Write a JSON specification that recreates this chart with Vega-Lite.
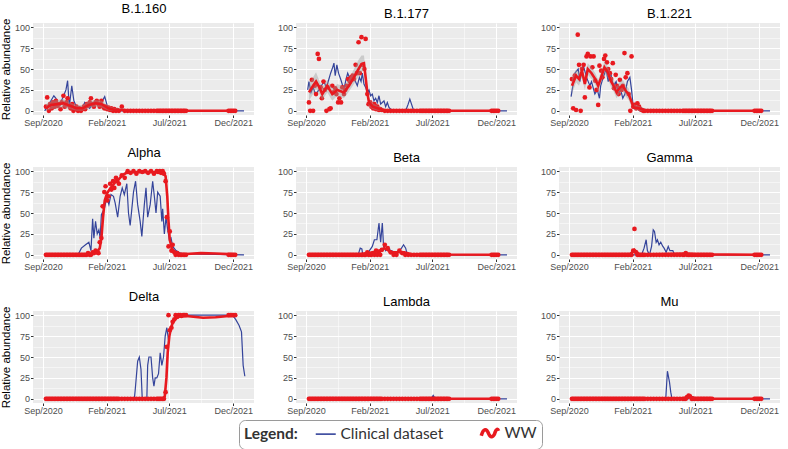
{
  "$schema": "https://vega.github.io/schema/vega-lite/v6.json",
  "padding": {"left": 0, "top": 3, "right": 0, "bottom": 0},
  "datasets": {
    "ww": [
      {"t":"2020-09-08","a":5,"b":10,"c":38,"d":0,"e":0,"f":0,"g":0,"h":0,"i":0},
      {"t":"2020-09-11","a":16,"b":0,"c":3,"d":0,"e":0,"f":0,"g":0,"h":0,"i":0},
      {"t":"2020-09-15","a":0,"b":37,"c":42,"d":0,"e":0,"f":0,"g":0,"h":0,"i":0},
      {"t":"2020-09-18","a":8,"b":0,"c":1,"d":0,"e":0,"f":0,"g":0,"h":0,"i":0},
      {"t":"2020-09-22","a":3,"b":30,"c":91,"d":0,"e":0,"f":0,"g":0,"h":0,"i":0},
      {"t":"2020-09-25","a":10,"b":20,"c":55,"d":0,"e":0,"f":0,"g":0,"h":0,"i":0},
      {"t":"2020-09-29","a":5,"b":68,"c":0,"d":0,"e":0,"f":0,"g":0,"h":0,"i":0},
      {"t":"2020-10-02","a":12,"b":62,"c":50,"d":0,"e":0,"f":0,"g":0,"h":0,"i":0},
      {"t":"2020-10-06","a":6,"b":28,"c":55,"d":0,"e":0,"f":0,"g":0,"h":0,"i":0},
      {"t":"2020-10-09","a":8,"b":15,"c":16,"d":0,"e":0,"f":0,"g":0,"h":0,"i":0},
      {"t":"2020-10-13","a":2,"b":35,"c":65,"d":0,"e":0,"f":0,"g":0,"h":0,"i":0},
      {"t":"2020-10-16","a":10,"b":25,"c":68,"d":0,"e":0,"f":0,"g":0,"h":0,"i":0},
      {"t":"2020-10-20","a":18,"b":0,"c":28,"d":0,"e":0,"f":0,"g":0,"h":0,"i":0},
      {"t":"2020-10-23","a":5,"b":28,"c":65,"d":0,"e":0,"f":0,"g":0,"h":0,"i":0},
      {"t":"2020-10-27","a":10,"b":2,"c":52,"d":0,"e":0,"f":0,"g":0,"h":0,"i":0},
      {"t":"2020-10-30","a":15,"b":3,"c":65,"d":0,"e":0,"f":0,"g":0,"h":0,"i":0},
      {"t":"2020-11-03","a":6,"b":30,"c":36,"d":0,"e":0,"f":0,"g":0,"h":0,"i":0},
      {"t":"2020-11-06","a":3,"b":22,"c":25,"d":0,"e":0,"f":0,"g":0,"h":0,"i":0},
      {"t":"2020-11-10","a":8,"b":27,"c":7,"d":0,"e":0,"f":0,"g":0,"h":0,"i":0},
      {"t":"2020-11-13","a":0,"b":20,"c":54,"d":0,"e":0,"f":0,"g":0,"h":0,"i":0},
      {"t":"2020-11-17","a":2,"b":10,"c":48,"d":0,"e":0,"f":0,"g":0,"h":0,"i":0},
      {"t":"2020-11-20","a":5,"b":15,"c":40,"d":0,"e":0,"f":0,"g":0,"h":0,"i":0},
      {"t":"2020-11-24","a":0,"b":10,"c":62,"d":0,"e":0,"f":0,"g":0,"h":0,"i":0},
      {"t":"2020-11-27","a":3,"b":28,"c":66,"d":0,"e":0,"f":0,"g":0,"h":0,"i":0},
      {"t":"2020-12-01","a":0,"b":20,"c":58,"d":0,"e":0,"f":0,"g":0,"h":0,"i":0},
      {"t":"2020-12-04","a":2,"b":25,"c":50,"d":0,"e":0,"f":0,"g":0,"h":0,"i":0},
      {"t":"2020-12-08","a":5,"b":30,"c":45,"d":0,"e":0,"f":0,"g":0,"h":0,"i":0},
      {"t":"2020-12-11","a":2,"b":38,"c":38,"d":0,"e":0,"f":0,"g":0,"h":0,"i":0},
      {"t":"2020-12-15","a":8,"b":35,"c":57,"d":0,"e":0,"f":0,"g":0,"h":0,"i":0},
      {"t":"2020-12-18","a":6,"b":40,"c":27,"d":2,"e":0,"f":0,"g":0,"h":0,"i":0},
      {"t":"2020-12-22","a":10,"b":42,"c":43,"d":0,"e":0,"f":0,"g":0,"h":0,"i":0},
      {"t":"2020-12-25","a":15,"b":38,"c":30,"d":0,"e":0,"f":0,"g":0,"h":0,"i":0},
      {"t":"2020-12-29","a":8,"b":55,"c":20,"d":3,"e":0,"f":0,"g":0,"h":0,"i":0},
      {"t":"2021-01-01","a":5,"b":45,"c":37,"d":2,"e":0,"f":0,"g":0,"h":0,"i":0},
      {"t":"2021-01-05","a":10,"b":82,"c":25,"d":5,"e":0,"f":0,"g":0,"h":0,"i":0},
      {"t":"2021-01-08","a":12,"b":45,"c":30,"d":3,"e":0,"f":0,"g":0,"h":0,"i":0},
      {"t":"2021-01-12","a":8,"b":88,"c":69,"d":2,"e":0,"f":0,"g":0,"h":0,"i":0},
      {"t":"2021-01-15","a":5,"b":55,"c":40,"d":15,"e":0,"f":0,"g":0,"h":0,"i":0},
      {"t":"2021-01-19","a":12,"b":50,"c":45,"d":20,"e":0,"f":0,"g":0,"h":0,"i":0},
      {"t":"2021-01-22","a":6,"b":86,"c":20,"d":58,"e":0,"f":0,"g":0,"h":0,"i":0},
      {"t":"2021-01-26","a":3,"b":20,"c":0,"d":75,"e":3,"f":0,"g":0,"h":0,"i":0},
      {"t":"2021-01-29","a":5,"b":8,"c":65,"d":82,"e":0,"f":0,"g":0,"h":0,"i":0},
      {"t":"2021-02-02","a":2,"b":10,"c":5,"d":65,"e":0,"f":5,"g":0,"h":0,"i":0},
      {"t":"2021-02-05","a":4,"b":5,"c":7,"d":70,"e":0,"f":31,"g":0,"h":0,"i":0},
      {"t":"2021-02-09","a":1,"b":3,"c":3,"d":85,"e":2,"f":3,"g":0,"h":0,"i":0},
      {"t":"2021-02-12","a":3,"b":8,"c":9,"d":78,"e":0,"f":0,"g":0,"h":0,"i":0},
      {"t":"2021-02-16","a":0,"b":2,"c":5,"d":88,"e":5,"f":0,"g":0,"h":0,"i":0},
      {"t":"2021-02-19","a":2,"b":5,"c":2,"d":80,"e":0,"f":0,"g":0,"h":0,"i":0},
      {"t":"2021-02-23","a":0,"b":1,"c":1,"d":92,"e":4,"f":0,"g":0,"h":0,"i":0},
      {"t":"2021-02-26","a":1,"b":2,"c":0,"d":88,"e":0,"f":0,"g":0,"h":0,"i":0},
      {"t":"2021-03-02","a":0,"b":1,"c":0,"d":85,"e":6,"f":0,"g":0,"h":0,"i":0},
      {"t":"2021-03-09","a":5,"b":0,"c":0,"d":95,"e":12,"f":0,"g":0,"h":0,"i":0},
      {"t":"2021-03-16","a":0,"b":0,"c":0,"d":92,"e":8,"f":0,"g":0,"h":0,"i":0},
      {"t":"2021-03-23","a":0,"b":0,"c":0,"d":100,"e":3,"f":0,"g":0,"h":0,"i":0},
      {"t":"2021-03-30","a":0,"b":0,"c":0,"d":98,"e":0,"f":0,"g":0,"h":0,"i":0},
      {"t":"2021-04-06","a":0,"b":0,"c":0,"d":100,"e":0,"f":0,"g":0,"h":0,"i":0},
      {"t":"2021-04-13","a":0,"b":0,"c":0,"d":97,"e":5,"f":0,"g":0,"h":0,"i":0},
      {"t":"2021-04-20","a":0,"b":0,"c":0,"d":100,"e":2,"f":0,"g":0,"h":0,"i":0},
      {"t":"2021-04-27","a":0,"b":0,"c":0,"d":99,"e":0,"f":0,"g":0,"h":0,"i":0},
      {"t":"2021-05-04","a":0,"b":0,"c":0,"d":100,"e":0,"f":0,"g":0,"h":0,"i":0},
      {"t":"2021-05-11","a":0,"b":0,"c":0,"d":98,"e":0,"f":0,"g":0,"h":0,"i":0},
      {"t":"2021-05-18","a":0,"b":0,"c":0,"d":100,"e":0,"f":0,"g":0,"h":0,"i":0},
      {"t":"2021-05-25","a":0,"b":0,"c":0,"d":97,"e":0,"f":0,"g":0,"h":0,"i":0},
      {"t":"2021-06-01","a":0,"b":0,"c":0,"d":100,"e":0,"f":0,"g":0,"h":0,"i":0},
      {"t":"2021-06-04","a":0,"b":0,"c":0,"d":99,"e":0,"f":0,"g":0,"h":0,"i":0},
      {"t":"2021-06-08","a":0,"b":0,"c":0,"d":100,"e":0,"f":2,"g":0,"h":0,"i":0},
      {"t":"2021-06-11","a":0,"b":0,"c":0,"d":98,"e":0,"f":0,"g":0,"h":0,"i":2},
      {"t":"2021-06-15","a":0,"b":0,"c":0,"d":100,"e":0,"f":0,"g":0,"h":0,"i":4},
      {"t":"2021-06-18","a":0,"b":0,"c":0,"d":97,"e":0,"f":0,"g":0,"h":0,"i":3},
      {"t":"2021-06-22","a":0,"b":0,"c":0,"d":88,"e":0,"f":0,"g":8,"h":0,"i":0},
      {"t":"2021-06-25","a":0,"b":0,"c":0,"d":45,"e":0,"f":0,"g":62,"h":0,"i":0},
      {"t":"2021-06-29","a":0,"b":0,"c":0,"d":10,"e":0,"f":0,"g":100,"h":0,"i":0},
      {"t":"2021-07-02","a":0,"b":0,"c":0,"d":28,"e":0,"f":0,"g":82,"h":0,"i":0},
      {"t":"2021-07-06","a":0,"b":0,"c":0,"d":5,"e":0,"f":0,"g":85,"h":0,"i":0},
      {"t":"2021-07-09","a":0,"b":0,"c":0,"d":12,"e":0,"f":0,"g":92,"h":0,"i":0},
      {"t":"2021-07-13","a":0,"b":0,"c":0,"d":3,"e":0,"f":0,"g":95,"h":0,"i":0},
      {"t":"2021-07-16","a":0,"b":0,"c":0,"d":0,"e":0,"f":0,"g":100,"h":0,"i":0},
      {"t":"2021-07-20","a":0,"b":0,"c":0,"d":2,"e":0,"f":0,"g":98,"h":0,"i":0},
      {"t":"2021-07-23","a":0,"b":0,"c":0,"d":0,"e":0,"f":0,"g":100,"h":0,"i":0},
      {"t":"2021-07-27","a":0,"b":0,"c":0,"d":0,"e":0,"f":0,"g":100,"h":0,"i":0},
      {"t":"2021-07-30","a":0,"b":0,"c":0,"d":0,"e":0,"f":0,"g":99,"h":0,"i":0},
      {"t":"2021-08-03","a":0,"b":0,"c":0,"d":0,"e":0,"f":0,"g":100,"h":0,"i":0},
      {"t":"2021-08-06","a":0,"b":0,"c":0,"d":0,"e":0,"f":0,"g":100,"h":0,"i":0},
      {"t":"2021-08-10","a":0,"b":0,"c":0,"d":0,"e":0,"f":0,"g":100,"h":0,"i":0},
      {"t":"2021-11-20","a":0,"b":0,"c":0,"d":0,"e":0,"f":0,"g":100,"h":0,"i":0},
      {"t":"2021-11-24","a":0,"b":0,"c":0,"d":0,"e":0,"f":0,"g":100,"h":0,"i":0},
      {"t":"2021-11-28","a":0,"b":0,"c":0,"d":0,"e":0,"f":0,"g":100,"h":0,"i":0},
      {"t":"2021-12-02","a":0,"b":0,"c":0,"d":0,"e":0,"f":0,"g":100,"h":0,"i":0},
      {"t":"2021-12-06","a":0,"b":0,"c":0,"d":0,"e":0,"f":0,"g":100,"h":0,"i":0}
    ],
    "fit": [
      {"v":"a","t":"2020-09-08","y":3,"lo":0,"hi":8},
      {"v":"a","t":"2020-09-20","y":7,"lo":2,"hi":12},
      {"v":"a","t":"2020-10-05","y":8,"lo":3,"hi":13},
      {"v":"a","t":"2020-10-20","y":9,"lo":4,"hi":14},
      {"v":"a","t":"2020-11-05","y":6,"lo":2,"hi":10},
      {"v":"a","t":"2020-11-20","y":3,"lo":0,"hi":7},
      {"v":"a","t":"2020-12-05","y":3,"lo":0,"hi":7},
      {"v":"a","t":"2020-12-20","y":7,"lo":3,"hi":12},
      {"v":"a","t":"2021-01-05","y":9,"lo":5,"hi":13},
      {"v":"a","t":"2021-01-20","y":8,"lo":4,"hi":12},
      {"v":"a","t":"2021-02-05","y":3,"lo":0,"hi":6},
      {"v":"a","t":"2021-02-20","y":1,"lo":0,"hi":3},
      {"v":"a","t":"2021-03-10","y":1,"lo":0,"hi":3},
      {"v":"a","t":"2021-04-01","y":0,"lo":0,"hi":1},
      {"v":"a","t":"2021-12-06","y":0,"lo":0,"hi":1},
      {"v":"b","t":"2020-09-08","y":22,"lo":12,"hi":32},
      {"v":"b","t":"2020-09-18","y":30,"lo":20,"hi":40},
      {"v":"b","t":"2020-09-25","y":35,"lo":26,"hi":46},
      {"v":"b","t":"2020-10-03","y":28,"lo":20,"hi":36},
      {"v":"b","t":"2020-10-10","y":20,"lo":13,"hi":28},
      {"v":"b","t":"2020-10-22","y":30,"lo":22,"hi":37},
      {"v":"b","t":"2020-11-03","y":20,"lo":12,"hi":27},
      {"v":"b","t":"2020-11-15","y":25,"lo":18,"hi":32},
      {"v":"b","t":"2020-12-01","y":22,"lo":15,"hi":29},
      {"v":"b","t":"2020-12-13","y":30,"lo":23,"hi":38},
      {"v":"b","t":"2020-12-25","y":40,"lo":32,"hi":50},
      {"v":"b","t":"2021-01-05","y":50,"lo":41,"hi":61},
      {"v":"b","t":"2021-01-12","y":56,"lo":47,"hi":66},
      {"v":"b","t":"2021-01-18","y":57,"lo":48,"hi":66},
      {"v":"b","t":"2021-01-22","y":40,"lo":32,"hi":48},
      {"v":"b","t":"2021-01-26","y":22,"lo":15,"hi":30},
      {"v":"b","t":"2021-01-30","y":10,"lo":5,"hi":16},
      {"v":"b","t":"2021-02-08","y":5,"lo":2,"hi":9},
      {"v":"b","t":"2021-02-20","y":3,"lo":0,"hi":6},
      {"v":"b","t":"2021-03-05","y":1,"lo":0,"hi":3},
      {"v":"b","t":"2021-03-25","y":0,"lo":0,"hi":1},
      {"v":"b","t":"2021-12-06","y":0,"lo":0,"hi":1},
      {"v":"c","t":"2020-09-08","y":30,"lo":20,"hi":40},
      {"v":"c","t":"2020-09-18","y":42,"lo":34,"hi":50},
      {"v":"c","t":"2020-09-25","y":38,"lo":30,"hi":46},
      {"v":"c","t":"2020-10-02","y":48,"lo":40,"hi":55},
      {"v":"c","t":"2020-10-09","y":32,"lo":25,"hi":40},
      {"v":"c","t":"2020-10-16","y":50,"lo":43,"hi":57},
      {"v":"c","t":"2020-10-25","y":45,"lo":38,"hi":52},
      {"v":"c","t":"2020-11-03","y":38,"lo":31,"hi":45},
      {"v":"c","t":"2020-11-10","y":30,"lo":23,"hi":37},
      {"v":"c","t":"2020-11-17","y":40,"lo":33,"hi":47},
      {"v":"c","t":"2020-11-25","y":52,"lo":45,"hi":59},
      {"v":"c","t":"2020-12-03","y":46,"lo":39,"hi":53},
      {"v":"c","t":"2020-12-10","y":36,"lo":29,"hi":43},
      {"v":"c","t":"2020-12-17","y":30,"lo":23,"hi":37},
      {"v":"c","t":"2020-12-24","y":22,"lo":15,"hi":29},
      {"v":"c","t":"2021-01-01","y":28,"lo":21,"hi":35},
      {"v":"c","t":"2021-01-08","y":30,"lo":23,"hi":37},
      {"v":"c","t":"2021-01-15","y":24,"lo":17,"hi":31},
      {"v":"c","t":"2021-01-22","y":20,"lo":13,"hi":27},
      {"v":"c","t":"2021-01-28","y":12,"lo":6,"hi":18},
      {"v":"c","t":"2021-02-03","y":4,"lo":1,"hi":8},
      {"v":"c","t":"2021-02-15","y":3,"lo":0,"hi":6},
      {"v":"c","t":"2021-03-01","y":1,"lo":0,"hi":3},
      {"v":"c","t":"2021-03-20","y":0,"lo":0,"hi":1},
      {"v":"c","t":"2021-12-06","y":0,"lo":0,"hi":1},
      {"v":"d","t":"2020-09-08","y":0},
      {"v":"d","t":"2020-12-10","y":0},
      {"v":"d","t":"2020-12-25","y":1},
      {"v":"d","t":"2021-01-08","y":3},
      {"v":"d","t":"2021-01-15","y":8},
      {"v":"d","t":"2021-01-19","y":20},
      {"v":"d","t":"2021-01-23","y":45},
      {"v":"d","t":"2021-01-27","y":65},
      {"v":"d","t":"2021-02-02","y":74},
      {"v":"d","t":"2021-02-10","y":80},
      {"v":"d","t":"2021-02-20","y":86},
      {"v":"d","t":"2021-03-01","y":90},
      {"v":"d","t":"2021-03-10","y":95},
      {"v":"d","t":"2021-03-20","y":98},
      {"v":"d","t":"2021-04-05","y":99},
      {"v":"d","t":"2021-06-15","y":99},
      {"v":"d","t":"2021-06-22","y":94},
      {"v":"d","t":"2021-06-26","y":70},
      {"v":"d","t":"2021-06-29","y":40},
      {"v":"d","t":"2021-07-02","y":18},
      {"v":"d","t":"2021-07-07","y":8},
      {"v":"d","t":"2021-07-14","y":3},
      {"v":"d","t":"2021-07-25","y":1},
      {"v":"d","t":"2021-08-10","y":1},
      {"v":"d","t":"2021-09-15","y":2},
      {"v":"d","t":"2021-10-20","y":1.5},
      {"v":"d","t":"2021-12-06","y":0.5},
      {"v":"e","t":"2020-09-08","y":0},
      {"v":"e","t":"2021-01-05","y":0},
      {"v":"e","t":"2021-01-25","y":2},
      {"v":"e","t":"2021-02-10","y":3},
      {"v":"e","t":"2021-02-25","y":5},
      {"v":"e","t":"2021-03-08","y":8},
      {"v":"e","t":"2021-03-15","y":6},
      {"v":"e","t":"2021-03-25","y":3},
      {"v":"e","t":"2021-04-10","y":3},
      {"v":"e","t":"2021-04-25","y":3},
      {"v":"e","t":"2021-05-10","y":1},
      {"v":"e","t":"2021-06-01","y":0.3},
      {"v":"e","t":"2021-12-06","y":0},
      {"v":"f","t":"2020-09-08","y":0},
      {"v":"f","t":"2021-01-25","y":0.5},
      {"v":"f","t":"2021-02-05","y":6},
      {"v":"f","t":"2021-02-15","y":1},
      {"v":"f","t":"2021-03-15","y":0.5},
      {"v":"f","t":"2021-06-08","y":1.5},
      {"v":"f","t":"2021-07-01","y":0.5},
      {"v":"f","t":"2021-12-06","y":0},
      {"v":"g","t":"2020-09-08","y":0},
      {"v":"g","t":"2021-06-15","y":0},
      {"v":"g","t":"2021-06-20","y":3},
      {"v":"g","t":"2021-06-24","y":25},
      {"v":"g","t":"2021-06-27","y":55},
      {"v":"g","t":"2021-07-01","y":75},
      {"v":"g","t":"2021-07-05","y":85},
      {"v":"g","t":"2021-07-10","y":92},
      {"v":"g","t":"2021-07-18","y":97},
      {"v":"g","t":"2021-07-28","y":99},
      {"v":"g","t":"2021-08-10","y":99},
      {"v":"g","t":"2021-09-20","y":97},
      {"v":"g","t":"2021-10-20","y":97.5},
      {"v":"g","t":"2021-11-20","y":99},
      {"v":"g","t":"2021-12-06","y":100},
      {"v":"h","t":"2020-09-08","y":0},
      {"v":"h","t":"2021-12-06","y":0},
      {"v":"i","t":"2020-09-08","y":0},
      {"v":"i","t":"2021-06-01","y":0},
      {"v":"i","t":"2021-06-14","y":3},
      {"v":"i","t":"2021-06-28","y":1},
      {"v":"i","t":"2021-07-15","y":0},
      {"v":"i","t":"2021-12-06","y":0}
    ],
    "clin": [
      {"v":"a","t":"2020-09-05","y":0},{"v":"a","t":"2020-09-12","y":5},{"v":"a","t":"2020-09-20","y":12},{"v":"a","t":"2020-09-27","y":18},
      {"v":"a","t":"2020-10-02","y":15},{"v":"a","t":"2020-10-07","y":8},{"v":"a","t":"2020-10-13","y":10},{"v":"a","t":"2020-10-18","y":15},
      {"v":"a","t":"2020-10-26","y":25},{"v":"a","t":"2020-10-30","y":36},{"v":"a","t":"2020-11-03","y":5},{"v":"a","t":"2020-11-09","y":30},
      {"v":"a","t":"2020-11-14","y":12},{"v":"a","t":"2020-11-20","y":5},{"v":"a","t":"2020-11-28","y":0},{"v":"a","t":"2020-12-03","y":2},
      {"v":"a","t":"2020-12-10","y":10},{"v":"a","t":"2020-12-15","y":6},{"v":"a","t":"2020-12-22","y":3},{"v":"a","t":"2020-12-28","y":8},
      {"v":"a","t":"2021-01-05","y":12},{"v":"a","t":"2021-01-12","y":8},{"v":"a","t":"2021-01-19","y":10},{"v":"a","t":"2021-01-27","y":17},
      {"v":"a","t":"2021-02-01","y":8},{"v":"a","t":"2021-02-06","y":0},{"v":"a","t":"2021-12-27","y":0},
      {"v":"b","t":"2020-09-05","y":25},{"v":"b","t":"2020-09-08","y":35},{"v":"b","t":"2020-09-13","y":22},{"v":"b","t":"2020-09-18","y":28},
      {"v":"b","t":"2020-09-24","y":20},{"v":"b","t":"2020-10-02","y":25},{"v":"b","t":"2020-10-08","y":30},{"v":"b","t":"2020-10-14","y":35},
      {"v":"b","t":"2020-10-20","y":28},{"v":"b","t":"2020-10-26","y":38},{"v":"b","t":"2020-10-30","y":45},{"v":"b","t":"2020-11-04","y":52},
      {"v":"b","t":"2020-11-07","y":57},{"v":"b","t":"2020-11-10","y":42},{"v":"b","t":"2020-11-14","y":55},{"v":"b","t":"2020-11-18","y":45},
      {"v":"b","t":"2020-11-23","y":38},{"v":"b","t":"2020-11-28","y":30},{"v":"b","t":"2020-12-02","y":28},{"v":"b","t":"2020-12-06","y":38},
      {"v":"b","t":"2020-12-10","y":45},{"v":"b","t":"2020-12-14","y":40},{"v":"b","t":"2020-12-18","y":35},{"v":"b","t":"2020-12-22","y":42},
      {"v":"b","t":"2020-12-26","y":38},{"v":"b","t":"2021-01-02","y":30},{"v":"b","t":"2021-01-07","y":40},{"v":"b","t":"2021-01-11","y":35},
      {"v":"b","t":"2021-01-14","y":45},{"v":"b","t":"2021-01-18","y":32},{"v":"b","t":"2021-01-22","y":28},{"v":"b","t":"2021-01-26","y":22},
      {"v":"b","t":"2021-01-30","y":25},{"v":"b","t":"2021-02-03","y":18},{"v":"b","t":"2021-02-07","y":20},{"v":"b","t":"2021-02-11","y":12},
      {"v":"b","t":"2021-02-15","y":15},{"v":"b","t":"2021-02-19","y":10},{"v":"b","t":"2021-02-23","y":18},{"v":"b","t":"2021-02-27","y":8},
      {"v":"b","t":"2021-03-03","y":10},{"v":"b","t":"2021-03-07","y":12},{"v":"b","t":"2021-03-11","y":5},{"v":"b","t":"2021-03-15","y":10},
      {"v":"b","t":"2021-03-19","y":4},{"v":"b","t":"2021-03-23","y":2},{"v":"b","t":"2021-03-28","y":1},{"v":"b","t":"2021-04-05","y":0},
      {"v":"b","t":"2021-04-28","y":0},{"v":"b","t":"2021-05-04","y":8},{"v":"b","t":"2021-05-08","y":14},{"v":"b","t":"2021-05-12","y":8},
      {"v":"b","t":"2021-05-16","y":2},{"v":"b","t":"2021-05-20","y":0},{"v":"b","t":"2021-12-27","y":0},
      {"v":"c","t":"2020-09-06","y":17},{"v":"c","t":"2020-09-15","y":45},{"v":"c","t":"2020-09-23","y":50},{"v":"c","t":"2020-09-27","y":35},
      {"v":"c","t":"2020-10-05","y":55},{"v":"c","t":"2020-10-13","y":40},{"v":"c","t":"2020-10-21","y":30},{"v":"c","t":"2020-10-25","y":35},
      {"v":"c","t":"2020-11-02","y":20},{"v":"c","t":"2020-11-08","y":25},{"v":"c","t":"2020-11-13","y":15},{"v":"c","t":"2020-11-16","y":30},
      {"v":"c","t":"2020-11-22","y":40},{"v":"c","t":"2020-11-29","y":50},{"v":"c","t":"2020-12-04","y":35},{"v":"c","t":"2020-12-10","y":45},
      {"v":"c","t":"2020-12-16","y":30},{"v":"c","t":"2020-12-23","y":35},{"v":"c","t":"2020-12-28","y":20},{"v":"c","t":"2021-01-03","y":25},
      {"v":"c","t":"2021-01-08","y":15},{"v":"c","t":"2021-01-13","y":20},{"v":"c","t":"2021-01-19","y":35},{"v":"c","t":"2021-01-25","y":40},
      {"v":"c","t":"2021-01-29","y":25},{"v":"c","t":"2021-02-02","y":5},{"v":"c","t":"2021-02-10","y":3},{"v":"c","t":"2021-02-18","y":0},
      {"v":"c","t":"2021-12-27","y":0},
      {"v":"d","t":"2020-09-05","y":0},{"v":"d","t":"2020-11-24","y":0},{"v":"d","t":"2020-12-02","y":8},{"v":"d","t":"2020-12-12","y":12},
      {"v":"d","t":"2020-12-20","y":15},{"v":"d","t":"2020-12-25","y":5},{"v":"d","t":"2020-12-29","y":43},{"v":"d","t":"2021-01-01","y":20},
      {"v":"d","t":"2021-01-05","y":40},{"v":"d","t":"2021-01-09","y":25},{"v":"d","t":"2021-01-13","y":30},{"v":"d","t":"2021-01-16","y":20},
      {"v":"d","t":"2021-01-19","y":48},{"v":"d","t":"2021-01-26","y":55},{"v":"d","t":"2021-02-01","y":68},{"v":"d","t":"2021-02-06","y":60},
      {"v":"d","t":"2021-02-11","y":72},{"v":"d","t":"2021-02-17","y":70},{"v":"d","t":"2021-02-21","y":62},{"v":"d","t":"2021-02-27","y":45},
      {"v":"d","t":"2021-03-05","y":70},{"v":"d","t":"2021-03-10","y":80},{"v":"d","t":"2021-03-15","y":72},{"v":"d","t":"2021-03-21","y":85},
      {"v":"d","t":"2021-03-25","y":50},{"v":"d","t":"2021-03-29","y":35},{"v":"d","t":"2021-04-02","y":55},{"v":"d","t":"2021-04-06","y":75},
      {"v":"d","t":"2021-04-11","y":88},{"v":"d","t":"2021-04-16","y":60},{"v":"d","t":"2021-04-22","y":40},{"v":"d","t":"2021-04-26","y":22},
      {"v":"d","t":"2021-05-02","y":60},{"v":"d","t":"2021-05-06","y":80},{"v":"d","t":"2021-05-10","y":45},{"v":"d","t":"2021-05-16","y":60},
      {"v":"d","t":"2021-05-22","y":88},{"v":"d","t":"2021-05-26","y":70},{"v":"d","t":"2021-05-30","y":50},{"v":"d","t":"2021-06-03","y":75},
      {"v":"d","t":"2021-06-09","y":70},{"v":"d","t":"2021-06-13","y":40},{"v":"d","t":"2021-06-15","y":55},{"v":"d","t":"2021-06-19","y":25},
      {"v":"d","t":"2021-06-23","y":45},{"v":"d","t":"2021-06-27","y":30},{"v":"d","t":"2021-07-01","y":18},{"v":"d","t":"2021-07-05","y":20},
      {"v":"d","t":"2021-07-09","y":10},{"v":"d","t":"2021-07-17","y":5},{"v":"d","t":"2021-07-27","y":2},{"v":"d","t":"2021-08-08","y":1},
      {"v":"d","t":"2021-12-27","y":0},
      {"v":"e","t":"2020-09-05","y":0},{"v":"e","t":"2021-01-04","y":0},{"v":"e","t":"2021-01-09","y":8},{"v":"e","t":"2021-01-13","y":7},
      {"v":"e","t":"2021-01-15","y":0},{"v":"e","t":"2021-01-27","y":2},{"v":"e","t":"2021-02-07","y":10},{"v":"e","t":"2021-02-12","y":18},
      {"v":"e","t":"2021-02-18","y":18},{"v":"e","t":"2021-02-23","y":38},{"v":"e","t":"2021-02-27","y":15},{"v":"e","t":"2021-03-03","y":38},
      {"v":"e","t":"2021-03-06","y":10},{"v":"e","t":"2021-03-11","y":5},{"v":"e","t":"2021-03-16","y":8},{"v":"e","t":"2021-03-24","y":5},
      {"v":"e","t":"2021-04-02","y":3},{"v":"e","t":"2021-04-10","y":3},{"v":"e","t":"2021-04-18","y":8},{"v":"e","t":"2021-04-23","y":12},
      {"v":"e","t":"2021-04-28","y":8},{"v":"e","t":"2021-05-01","y":2},{"v":"e","t":"2021-05-06","y":0},{"v":"e","t":"2021-12-27","y":0},
      {"v":"f","t":"2020-09-05","y":0},{"v":"f","t":"2021-02-22","y":0},{"v":"f","t":"2021-02-28","y":8},{"v":"f","t":"2021-03-05","y":18},
      {"v":"f","t":"2021-03-08","y":5},{"v":"f","t":"2021-03-13","y":0},{"v":"f","t":"2021-03-18","y":10},{"v":"f","t":"2021-03-22","y":30},
      {"v":"f","t":"2021-03-25","y":28},{"v":"f","t":"2021-03-29","y":15},{"v":"f","t":"2021-04-01","y":18},{"v":"f","t":"2021-04-05","y":12},
      {"v":"f","t":"2021-04-09","y":15},{"v":"f","t":"2021-04-14","y":10},{"v":"f","t":"2021-04-17","y":8},{"v":"f","t":"2021-04-22","y":3},
      {"v":"f","t":"2021-04-27","y":10},{"v":"f","t":"2021-05-01","y":5},{"v":"f","t":"2021-05-08","y":5},{"v":"f","t":"2021-05-11","y":1},
      {"v":"f","t":"2021-05-17","y":0},{"v":"f","t":"2021-12-27","y":0},
      {"v":"g","t":"2020-09-05","y":0},{"v":"g","t":"2021-04-08","y":0},{"v":"g","t":"2021-04-10","y":10},{"v":"g","t":"2021-04-16","y":45},
      {"v":"g","t":"2021-04-20","y":50},{"v":"g","t":"2021-04-24","y":35},{"v":"g","t":"2021-04-27","y":0},{"v":"g","t":"2021-05-08","y":0},
      {"v":"g","t":"2021-05-10","y":40},{"v":"g","t":"2021-05-13","y":50},{"v":"g","t":"2021-05-18","y":50},{"v":"g","t":"2021-05-22","y":25},
      {"v":"g","t":"2021-05-25","y":15},{"v":"g","t":"2021-05-28","y":25},{"v":"g","t":"2021-06-01","y":25},{"v":"g","t":"2021-06-05","y":30},
      {"v":"g","t":"2021-06-09","y":55},{"v":"g","t":"2021-06-13","y":40},{"v":"g","t":"2021-06-17","y":50},{"v":"g","t":"2021-06-21","y":75},
      {"v":"g","t":"2021-06-25","y":85},{"v":"g","t":"2021-06-29","y":70},{"v":"g","t":"2021-07-03","y":80},{"v":"g","t":"2021-07-07","y":90},
      {"v":"g","t":"2021-07-15","y":97},{"v":"g","t":"2021-07-23","y":100},{"v":"g","t":"2021-11-29","y":100},{"v":"g","t":"2021-12-07","y":95},
      {"v":"g","t":"2021-12-15","y":88},{"v":"g","t":"2021-12-21","y":80},{"v":"g","t":"2021-12-25","y":40},{"v":"g","t":"2021-12-29","y":27},
      {"v":"h","t":"2020-09-05","y":0},{"v":"h","t":"2021-06-28","y":0},{"v":"h","t":"2021-07-03","y":4},{"v":"h","t":"2021-07-08","y":0},
      {"v":"h","t":"2021-12-27","y":0},
      {"v":"i","t":"2020-09-05","y":0},{"v":"i","t":"2021-04-21","y":0},{"v":"i","t":"2021-04-25","y":33},{"v":"i","t":"2021-04-30","y":20},
      {"v":"i","t":"2021-05-03","y":8},{"v":"i","t":"2021-05-06","y":0},{"v":"i","t":"2021-06-14","y":0},{"v":"i","t":"2021-06-20","y":3},
      {"v":"i","t":"2021-06-26","y":2},{"v":"i","t":"2021-07-03","y":0},{"v":"i","t":"2021-12-27","y":0}
    ]
  },
  "columns": 3,
  "align": "each",
  "spacing": {"row": 19, "column": 23},
  "concat": [
    {"title": {"text": "B.1.160", "anchor": "middle", "frame": "group", "fontWeight": "normal", "dx": 0.5}, "width": 221, "height": 92,
     "resolve": {"axis": {"x": "independent", "y": "independent"}},
     "layer": [
      {"data": {"name": "clin"}, "transform": [{"filter": "datum.v === 'a'"}], "mark": {"type": "line", "strokeWidth": 1.2},
       "encoding": {
        "x": {"field": "t", "type": "temporal", "scale": {"type": "utc", "domain": [{"year": 2020, "month": 8, "date": 8, "utc": true}, {"year": 2022, "month": 1, "date": 20, "utc": true}]}, "axis": {"values": [{"year": 2020, "month": 9, "date": 1, "utc": true}, {"year": 2021, "month": 2, "date": 1, "utc": true}, {"year": 2021, "month": 7, "date": 1, "utc": true}, {"year": 2021, "month": 12, "date": 1, "utc": true}], "format": "%b/%Y", "title": null}},
        "y": {"field": "y", "type": "quantitative", "scale": {"domain": [-5, 105]}, "axis": {"values": [0, 25, 50, 75, 100], "title": "Relative abundance"}},
        "color": {"datum": "Clinical dataset",
          "scale": {"domain": ["Clinical dataset", "WW"], "range": ["#34449b", "#e8191f"]},
          "legend": {"title": "Legend:", "orient": "bottom", "direction": "horizontal", "titleOrient": "left",
            "titleFont": "Lato", "titleFontSize": 15.5, "titleFontWeight": "bold", "titleColor": "#333333", "titlePadding": 20,
            "labelFont": "Lato", "labelFontSize": 15.5, "labelColor": "#333333", "labelOffset": 7,
            "symbolType": "stroke", "symbolSize": 400, "symbolStrokeWidth": 1.6, "columnPadding": 30,
            "padding": 5, "strokeColor": "#9a9a9a", "cornerRadius": 6, "fillColor": "#ffffff", "offset": 4,
            "encode": {"symbols": {"update": {
              "shape": {"signal": "datum.value === 'WW' ? 'M-0.85,0.3C-0.62,-0.5,-0.32,-0.45,-0.1,0.1C0.1,0.55,0.4,0.45,0.55,-0.1C0.65,-0.38,0.8,-0.42,0.88,-0.2' : 'stroke'"},
              "strokeWidth": {"signal": "datum.value === 'WW' ? 3.6 : 1.6"},
              "fill": {"value": "transparent"}}}}}}}},
      {"data": {"name": "ww"}, "transform": [{"fold": ["a"], "as": ["k", "y"]}], "mark": {"type": "circle", "size": 22, "opacity": 1, "color": "#e8191f"},
       "encoding": {
        "x": {"field": "t", "type": "temporal", "scale": {"type": "utc", "domain": [{"year": 2020, "month": 8, "date": 8, "utc": true}, {"year": 2022, "month": 1, "date": 20, "utc": true}]}, "axis": {"values": [{"year": 2020, "month": 11, "date": 16, "utc": true}, {"year": 2021, "month": 4, "date": 16, "utc": true}, {"year": 2021, "month": 9, "date": 16, "utc": true}], "orient": "bottom", "grid": true, "gridWidth": 0.5, "labels": false, "ticks": false, "domain": false, "title": null}},
        "y": {"field": "y", "type": "quantitative", "scale": {"domain": [-5, 105]}, "axis": {"values": [12.5, 37.5, 62.5, 87.5], "orient": "left", "grid": true, "gridWidth": 0.5, "labels": false, "ticks": false, "domain": false, "title": null}}}},
      {"data": {"name": "fit"}, "transform": [{"filter": "datum.v === 'a'"}], "mark": {"type": "area", "color": "#999999", "opacity": 0.4},
       "encoding": {
        "x": {"field": "t", "type": "temporal", "scale": {"type": "utc", "domain": [{"year": 2020, "month": 8, "date": 8, "utc": true}, {"year": 2022, "month": 1, "date": 20, "utc": true}]}, "axis": null},
        "y": {"field": "lo", "type": "quantitative", "scale": {"domain": [-5, 105]}, "axis": null}, "y2": {"field": "hi"}}},
      {"data": {"name": "fit"}, "transform": [{"filter": "datum.v === 'a'"}], "mark": {"type": "line", "strokeWidth": 2.6},
       "encoding": {
        "x": {"field": "t", "type": "temporal", "scale": {"type": "utc", "domain": [{"year": 2020, "month": 8, "date": 8, "utc": true}, {"year": 2022, "month": 1, "date": 20, "utc": true}]}, "axis": null},
        "y": {"field": "y", "type": "quantitative", "scale": {"domain": [-5, 105]}, "axis": null}, "color": {"datum": "WW"}}}
     ]},
    {"title": {"text": "B.1.177", "anchor": "middle", "frame": "group", "fontWeight": "normal"}, "width": 221, "height": 92,
     "resolve": {"axis": {"x": "independent", "y": "independent"}},
     "layer": [
      {"data": {"name": "clin"}, "transform": [{"filter": "datum.v === 'b'"}], "mark": {"type": "line", "strokeWidth": 1.2},
       "encoding": {
        "x": {"field": "t", "type": "temporal", "scale": {"type": "utc", "domain": [{"year": 2020, "month": 8, "date": 8, "utc": true}, {"year": 2022, "month": 1, "date": 20, "utc": true}]}, "axis": {"values": [{"year": 2020, "month": 9, "date": 1, "utc": true}, {"year": 2021, "month": 2, "date": 1, "utc": true}, {"year": 2021, "month": 7, "date": 1, "utc": true}, {"year": 2021, "month": 12, "date": 1, "utc": true}], "format": "%b/%Y", "title": null}},
        "y": {"field": "y", "type": "quantitative", "scale": {"domain": [-5, 105]}, "axis": {"values": [0, 25, 50, 75, 100], "title": null}},
        "color": {"datum": "Clinical dataset"}}},
      {"data": {"name": "ww"}, "transform": [{"fold": ["b"], "as": ["k", "y"]}], "mark": {"type": "circle", "size": 22, "opacity": 1, "color": "#e8191f"},
       "encoding": {
        "x": {"field": "t", "type": "temporal", "scale": {"type": "utc", "domain": [{"year": 2020, "month": 8, "date": 8, "utc": true}, {"year": 2022, "month": 1, "date": 20, "utc": true}]}, "axis": {"values": [{"year": 2020, "month": 11, "date": 16, "utc": true}, {"year": 2021, "month": 4, "date": 16, "utc": true}, {"year": 2021, "month": 9, "date": 16, "utc": true}], "orient": "bottom", "grid": true, "gridWidth": 0.5, "labels": false, "ticks": false, "domain": false, "title": null}},
        "y": {"field": "y", "type": "quantitative", "scale": {"domain": [-5, 105]}, "axis": {"values": [12.5, 37.5, 62.5, 87.5], "orient": "left", "grid": true, "gridWidth": 0.5, "labels": false, "ticks": false, "domain": false, "title": null}}}},
      {"data": {"name": "fit"}, "transform": [{"filter": "datum.v === 'b'"}], "mark": {"type": "area", "color": "#999999", "opacity": 0.4},
       "encoding": {
        "x": {"field": "t", "type": "temporal", "scale": {"type": "utc", "domain": [{"year": 2020, "month": 8, "date": 8, "utc": true}, {"year": 2022, "month": 1, "date": 20, "utc": true}]}, "axis": null},
        "y": {"field": "lo", "type": "quantitative", "scale": {"domain": [-5, 105]}, "axis": null}, "y2": {"field": "hi"}}},
      {"data": {"name": "fit"}, "transform": [{"filter": "datum.v === 'b'"}], "mark": {"type": "line", "strokeWidth": 2.6},
       "encoding": {
        "x": {"field": "t", "type": "temporal", "scale": {"type": "utc", "domain": [{"year": 2020, "month": 8, "date": 8, "utc": true}, {"year": 2022, "month": 1, "date": 20, "utc": true}]}, "axis": null},
        "y": {"field": "y", "type": "quantitative", "scale": {"domain": [-5, 105]}, "axis": null}, "color": {"datum": "WW"}}}
     ]},
    {"title": {"text": "B.1.221", "anchor": "middle", "frame": "group", "fontWeight": "normal"}, "width": 221, "height": 92,
     "resolve": {"axis": {"x": "independent", "y": "independent"}},
     "layer": [
      {"data": {"name": "clin"}, "transform": [{"filter": "datum.v === 'c'"}], "mark": {"type": "line", "strokeWidth": 1.2},
       "encoding": {
        "x": {"field": "t", "type": "temporal", "scale": {"type": "utc", "domain": [{"year": 2020, "month": 8, "date": 8, "utc": true}, {"year": 2022, "month": 1, "date": 20, "utc": true}]}, "axis": {"values": [{"year": 2020, "month": 9, "date": 1, "utc": true}, {"year": 2021, "month": 2, "date": 1, "utc": true}, {"year": 2021, "month": 7, "date": 1, "utc": true}, {"year": 2021, "month": 12, "date": 1, "utc": true}], "format": "%b/%Y", "title": null}},
        "y": {"field": "y", "type": "quantitative", "scale": {"domain": [-5, 105]}, "axis": {"values": [0, 25, 50, 75, 100], "title": null}},
        "color": {"datum": "Clinical dataset"}}},
      {"data": {"name": "ww"}, "transform": [{"fold": ["c"], "as": ["k", "y"]}], "mark": {"type": "circle", "size": 22, "opacity": 1, "color": "#e8191f"},
       "encoding": {
        "x": {"field": "t", "type": "temporal", "scale": {"type": "utc", "domain": [{"year": 2020, "month": 8, "date": 8, "utc": true}, {"year": 2022, "month": 1, "date": 20, "utc": true}]}, "axis": {"values": [{"year": 2020, "month": 11, "date": 16, "utc": true}, {"year": 2021, "month": 4, "date": 16, "utc": true}, {"year": 2021, "month": 9, "date": 16, "utc": true}], "orient": "bottom", "grid": true, "gridWidth": 0.5, "labels": false, "ticks": false, "domain": false, "title": null}},
        "y": {"field": "y", "type": "quantitative", "scale": {"domain": [-5, 105]}, "axis": {"values": [12.5, 37.5, 62.5, 87.5], "orient": "left", "grid": true, "gridWidth": 0.5, "labels": false, "ticks": false, "domain": false, "title": null}}}},
      {"data": {"name": "fit"}, "transform": [{"filter": "datum.v === 'c'"}], "mark": {"type": "area", "color": "#999999", "opacity": 0.4},
       "encoding": {
        "x": {"field": "t", "type": "temporal", "scale": {"type": "utc", "domain": [{"year": 2020, "month": 8, "date": 8, "utc": true}, {"year": 2022, "month": 1, "date": 20, "utc": true}]}, "axis": null},
        "y": {"field": "lo", "type": "quantitative", "scale": {"domain": [-5, 105]}, "axis": null}, "y2": {"field": "hi"}}},
      {"data": {"name": "fit"}, "transform": [{"filter": "datum.v === 'c'"}], "mark": {"type": "line", "strokeWidth": 2.6},
       "encoding": {
        "x": {"field": "t", "type": "temporal", "scale": {"type": "utc", "domain": [{"year": 2020, "month": 8, "date": 8, "utc": true}, {"year": 2022, "month": 1, "date": 20, "utc": true}]}, "axis": null},
        "y": {"field": "y", "type": "quantitative", "scale": {"domain": [-5, 105]}, "axis": null}, "color": {"datum": "WW"}}}
     ]},
    {"title": {"text": "Alpha", "anchor": "middle", "frame": "group", "fontWeight": "normal", "dx": 0.5}, "width": 221, "height": 92,
     "resolve": {"axis": {"x": "independent", "y": "independent"}},
     "layer": [
      {"data": {"name": "clin"}, "transform": [{"filter": "datum.v === 'd'"}], "mark": {"type": "line", "strokeWidth": 1.2},
       "encoding": {
        "x": {"field": "t", "type": "temporal", "scale": {"type": "utc", "domain": [{"year": 2020, "month": 8, "date": 8, "utc": true}, {"year": 2022, "month": 1, "date": 20, "utc": true}]}, "axis": {"values": [{"year": 2020, "month": 9, "date": 1, "utc": true}, {"year": 2021, "month": 2, "date": 1, "utc": true}, {"year": 2021, "month": 7, "date": 1, "utc": true}, {"year": 2021, "month": 12, "date": 1, "utc": true}], "format": "%b/%Y", "title": null}},
        "y": {"field": "y", "type": "quantitative", "scale": {"domain": [-5, 105]}, "axis": {"values": [0, 25, 50, 75, 100], "title": "Relative abundance"}},
        "color": {"datum": "Clinical dataset"}}},
      {"data": {"name": "ww"}, "transform": [{"fold": ["d"], "as": ["k", "y"]}], "mark": {"type": "circle", "size": 22, "opacity": 1, "color": "#e8191f"},
       "encoding": {
        "x": {"field": "t", "type": "temporal", "scale": {"type": "utc", "domain": [{"year": 2020, "month": 8, "date": 8, "utc": true}, {"year": 2022, "month": 1, "date": 20, "utc": true}]}, "axis": {"values": [{"year": 2020, "month": 11, "date": 16, "utc": true}, {"year": 2021, "month": 4, "date": 16, "utc": true}, {"year": 2021, "month": 9, "date": 16, "utc": true}], "orient": "bottom", "grid": true, "gridWidth": 0.5, "labels": false, "ticks": false, "domain": false, "title": null}},
        "y": {"field": "y", "type": "quantitative", "scale": {"domain": [-5, 105]}, "axis": {"values": [12.5, 37.5, 62.5, 87.5], "orient": "left", "grid": true, "gridWidth": 0.5, "labels": false, "ticks": false, "domain": false, "title": null}}}},
      {"data": {"name": "fit"}, "transform": [{"filter": "datum.v === 'd'"}], "mark": {"type": "line", "strokeWidth": 2.6},
       "encoding": {
        "x": {"field": "t", "type": "temporal", "scale": {"type": "utc", "domain": [{"year": 2020, "month": 8, "date": 8, "utc": true}, {"year": 2022, "month": 1, "date": 20, "utc": true}]}, "axis": null},
        "y": {"field": "y", "type": "quantitative", "scale": {"domain": [-5, 105]}, "axis": null}, "color": {"datum": "WW"}}}
     ]},
    {"title": {"text": "Beta", "anchor": "middle", "frame": "group", "fontWeight": "normal"}, "width": 221, "height": 92,
     "resolve": {"axis": {"x": "independent", "y": "independent"}},
     "layer": [
      {"data": {"name": "clin"}, "transform": [{"filter": "datum.v === 'e'"}], "mark": {"type": "line", "strokeWidth": 1.2},
       "encoding": {
        "x": {"field": "t", "type": "temporal", "scale": {"type": "utc", "domain": [{"year": 2020, "month": 8, "date": 8, "utc": true}, {"year": 2022, "month": 1, "date": 20, "utc": true}]}, "axis": {"values": [{"year": 2020, "month": 9, "date": 1, "utc": true}, {"year": 2021, "month": 2, "date": 1, "utc": true}, {"year": 2021, "month": 7, "date": 1, "utc": true}, {"year": 2021, "month": 12, "date": 1, "utc": true}], "format": "%b/%Y", "title": null}},
        "y": {"field": "y", "type": "quantitative", "scale": {"domain": [-5, 105]}, "axis": {"values": [0, 25, 50, 75, 100], "title": null}},
        "color": {"datum": "Clinical dataset"}}},
      {"data": {"name": "ww"}, "transform": [{"fold": ["e"], "as": ["k", "y"]}], "mark": {"type": "circle", "size": 22, "opacity": 1, "color": "#e8191f"},
       "encoding": {
        "x": {"field": "t", "type": "temporal", "scale": {"type": "utc", "domain": [{"year": 2020, "month": 8, "date": 8, "utc": true}, {"year": 2022, "month": 1, "date": 20, "utc": true}]}, "axis": {"values": [{"year": 2020, "month": 11, "date": 16, "utc": true}, {"year": 2021, "month": 4, "date": 16, "utc": true}, {"year": 2021, "month": 9, "date": 16, "utc": true}], "orient": "bottom", "grid": true, "gridWidth": 0.5, "labels": false, "ticks": false, "domain": false, "title": null}},
        "y": {"field": "y", "type": "quantitative", "scale": {"domain": [-5, 105]}, "axis": {"values": [12.5, 37.5, 62.5, 87.5], "orient": "left", "grid": true, "gridWidth": 0.5, "labels": false, "ticks": false, "domain": false, "title": null}}}},
      {"data": {"name": "fit"}, "transform": [{"filter": "datum.v === 'e'"}], "mark": {"type": "line", "strokeWidth": 2.6},
       "encoding": {
        "x": {"field": "t", "type": "temporal", "scale": {"type": "utc", "domain": [{"year": 2020, "month": 8, "date": 8, "utc": true}, {"year": 2022, "month": 1, "date": 20, "utc": true}]}, "axis": null},
        "y": {"field": "y", "type": "quantitative", "scale": {"domain": [-5, 105]}, "axis": null}, "color": {"datum": "WW"}}}
     ]},
    {"title": {"text": "Gamma", "anchor": "middle", "frame": "group", "fontWeight": "normal"}, "width": 221, "height": 92,
     "resolve": {"axis": {"x": "independent", "y": "independent"}},
     "layer": [
      {"data": {"name": "clin"}, "transform": [{"filter": "datum.v === 'f'"}], "mark": {"type": "line", "strokeWidth": 1.2},
       "encoding": {
        "x": {"field": "t", "type": "temporal", "scale": {"type": "utc", "domain": [{"year": 2020, "month": 8, "date": 8, "utc": true}, {"year": 2022, "month": 1, "date": 20, "utc": true}]}, "axis": {"values": [{"year": 2020, "month": 9, "date": 1, "utc": true}, {"year": 2021, "month": 2, "date": 1, "utc": true}, {"year": 2021, "month": 7, "date": 1, "utc": true}, {"year": 2021, "month": 12, "date": 1, "utc": true}], "format": "%b/%Y", "title": null}},
        "y": {"field": "y", "type": "quantitative", "scale": {"domain": [-5, 105]}, "axis": {"values": [0, 25, 50, 75, 100], "title": null}},
        "color": {"datum": "Clinical dataset"}}},
      {"data": {"name": "ww"}, "transform": [{"fold": ["f"], "as": ["k", "y"]}], "mark": {"type": "circle", "size": 22, "opacity": 1, "color": "#e8191f"},
       "encoding": {
        "x": {"field": "t", "type": "temporal", "scale": {"type": "utc", "domain": [{"year": 2020, "month": 8, "date": 8, "utc": true}, {"year": 2022, "month": 1, "date": 20, "utc": true}]}, "axis": {"values": [{"year": 2020, "month": 11, "date": 16, "utc": true}, {"year": 2021, "month": 4, "date": 16, "utc": true}, {"year": 2021, "month": 9, "date": 16, "utc": true}], "orient": "bottom", "grid": true, "gridWidth": 0.5, "labels": false, "ticks": false, "domain": false, "title": null}},
        "y": {"field": "y", "type": "quantitative", "scale": {"domain": [-5, 105]}, "axis": {"values": [12.5, 37.5, 62.5, 87.5], "orient": "left", "grid": true, "gridWidth": 0.5, "labels": false, "ticks": false, "domain": false, "title": null}}}},
      {"data": {"name": "fit"}, "transform": [{"filter": "datum.v === 'f'"}], "mark": {"type": "line", "strokeWidth": 2.6},
       "encoding": {
        "x": {"field": "t", "type": "temporal", "scale": {"type": "utc", "domain": [{"year": 2020, "month": 8, "date": 8, "utc": true}, {"year": 2022, "month": 1, "date": 20, "utc": true}]}, "axis": null},
        "y": {"field": "y", "type": "quantitative", "scale": {"domain": [-5, 105]}, "axis": null}, "color": {"datum": "WW"}}}
     ]},
    {"title": {"text": "Delta", "anchor": "middle", "frame": "group", "fontWeight": "normal", "dx": 0.5}, "width": 221, "height": 92,
     "resolve": {"axis": {"x": "independent", "y": "independent"}},
     "layer": [
      {"data": {"name": "clin"}, "transform": [{"filter": "datum.v === 'g'"}], "mark": {"type": "line", "strokeWidth": 1.2},
       "encoding": {
        "x": {"field": "t", "type": "temporal", "scale": {"type": "utc", "domain": [{"year": 2020, "month": 8, "date": 8, "utc": true}, {"year": 2022, "month": 1, "date": 20, "utc": true}]}, "axis": {"values": [{"year": 2020, "month": 9, "date": 1, "utc": true}, {"year": 2021, "month": 2, "date": 1, "utc": true}, {"year": 2021, "month": 7, "date": 1, "utc": true}, {"year": 2021, "month": 12, "date": 1, "utc": true}], "format": "%b/%Y", "title": null}},
        "y": {"field": "y", "type": "quantitative", "scale": {"domain": [-5, 105]}, "axis": {"values": [0, 25, 50, 75, 100], "title": "Relative abundance"}},
        "color": {"datum": "Clinical dataset"}}},
      {"data": {"name": "ww"}, "transform": [{"fold": ["g"], "as": ["k", "y"]}], "mark": {"type": "circle", "size": 22, "opacity": 1, "color": "#e8191f"},
       "encoding": {
        "x": {"field": "t", "type": "temporal", "scale": {"type": "utc", "domain": [{"year": 2020, "month": 8, "date": 8, "utc": true}, {"year": 2022, "month": 1, "date": 20, "utc": true}]}, "axis": {"values": [{"year": 2020, "month": 11, "date": 16, "utc": true}, {"year": 2021, "month": 4, "date": 16, "utc": true}, {"year": 2021, "month": 9, "date": 16, "utc": true}], "orient": "bottom", "grid": true, "gridWidth": 0.5, "labels": false, "ticks": false, "domain": false, "title": null}},
        "y": {"field": "y", "type": "quantitative", "scale": {"domain": [-5, 105]}, "axis": {"values": [12.5, 37.5, 62.5, 87.5], "orient": "left", "grid": true, "gridWidth": 0.5, "labels": false, "ticks": false, "domain": false, "title": null}}}},
      {"data": {"name": "fit"}, "transform": [{"filter": "datum.v === 'g'"}], "mark": {"type": "line", "strokeWidth": 2.6},
       "encoding": {
        "x": {"field": "t", "type": "temporal", "scale": {"type": "utc", "domain": [{"year": 2020, "month": 8, "date": 8, "utc": true}, {"year": 2022, "month": 1, "date": 20, "utc": true}]}, "axis": null},
        "y": {"field": "y", "type": "quantitative", "scale": {"domain": [-5, 105]}, "axis": null}, "color": {"datum": "WW"}}}
     ]},
    {"title": {"text": "Lambda", "anchor": "middle", "frame": "group", "fontWeight": "normal"}, "width": 221, "height": 92,
     "resolve": {"axis": {"x": "independent", "y": "independent"}},
     "layer": [
      {"data": {"name": "clin"}, "transform": [{"filter": "datum.v === 'h'"}], "mark": {"type": "line", "strokeWidth": 1.2},
       "encoding": {
        "x": {"field": "t", "type": "temporal", "scale": {"type": "utc", "domain": [{"year": 2020, "month": 8, "date": 8, "utc": true}, {"year": 2022, "month": 1, "date": 20, "utc": true}]}, "axis": {"values": [{"year": 2020, "month": 9, "date": 1, "utc": true}, {"year": 2021, "month": 2, "date": 1, "utc": true}, {"year": 2021, "month": 7, "date": 1, "utc": true}, {"year": 2021, "month": 12, "date": 1, "utc": true}], "format": "%b/%Y", "title": null}},
        "y": {"field": "y", "type": "quantitative", "scale": {"domain": [-5, 105]}, "axis": {"values": [0, 25, 50, 75, 100], "title": null}},
        "color": {"datum": "Clinical dataset"}}},
      {"data": {"name": "ww"}, "transform": [{"fold": ["h"], "as": ["k", "y"]}], "mark": {"type": "circle", "size": 22, "opacity": 1, "color": "#e8191f"},
       "encoding": {
        "x": {"field": "t", "type": "temporal", "scale": {"type": "utc", "domain": [{"year": 2020, "month": 8, "date": 8, "utc": true}, {"year": 2022, "month": 1, "date": 20, "utc": true}]}, "axis": {"values": [{"year": 2020, "month": 11, "date": 16, "utc": true}, {"year": 2021, "month": 4, "date": 16, "utc": true}, {"year": 2021, "month": 9, "date": 16, "utc": true}], "orient": "bottom", "grid": true, "gridWidth": 0.5, "labels": false, "ticks": false, "domain": false, "title": null}},
        "y": {"field": "y", "type": "quantitative", "scale": {"domain": [-5, 105]}, "axis": {"values": [12.5, 37.5, 62.5, 87.5], "orient": "left", "grid": true, "gridWidth": 0.5, "labels": false, "ticks": false, "domain": false, "title": null}}}},
      {"data": {"name": "fit"}, "transform": [{"filter": "datum.v === 'h'"}], "mark": {"type": "line", "strokeWidth": 2.6},
       "encoding": {
        "x": {"field": "t", "type": "temporal", "scale": {"type": "utc", "domain": [{"year": 2020, "month": 8, "date": 8, "utc": true}, {"year": 2022, "month": 1, "date": 20, "utc": true}]}, "axis": null},
        "y": {"field": "y", "type": "quantitative", "scale": {"domain": [-5, 105]}, "axis": null}, "color": {"datum": "WW"}}}
     ]},
    {"title": {"text": "Mu", "anchor": "middle", "frame": "group", "fontWeight": "normal"}, "width": 221, "height": 92,
     "resolve": {"axis": {"x": "independent", "y": "independent"}},
     "layer": [
      {"data": {"name": "clin"}, "transform": [{"filter": "datum.v === 'i'"}], "mark": {"type": "line", "strokeWidth": 1.2},
       "encoding": {
        "x": {"field": "t", "type": "temporal", "scale": {"type": "utc", "domain": [{"year": 2020, "month": 8, "date": 8, "utc": true}, {"year": 2022, "month": 1, "date": 20, "utc": true}]}, "axis": {"values": [{"year": 2020, "month": 9, "date": 1, "utc": true}, {"year": 2021, "month": 2, "date": 1, "utc": true}, {"year": 2021, "month": 7, "date": 1, "utc": true}, {"year": 2021, "month": 12, "date": 1, "utc": true}], "format": "%b/%Y", "title": null}},
        "y": {"field": "y", "type": "quantitative", "scale": {"domain": [-5, 105]}, "axis": {"values": [0, 25, 50, 75, 100], "title": null}},
        "color": {"datum": "Clinical dataset"}}},
      {"data": {"name": "ww"}, "transform": [{"fold": ["i"], "as": ["k", "y"]}], "mark": {"type": "circle", "size": 22, "opacity": 1, "color": "#e8191f"},
       "encoding": {
        "x": {"field": "t", "type": "temporal", "scale": {"type": "utc", "domain": [{"year": 2020, "month": 8, "date": 8, "utc": true}, {"year": 2022, "month": 1, "date": 20, "utc": true}]}, "axis": {"values": [{"year": 2020, "month": 11, "date": 16, "utc": true}, {"year": 2021, "month": 4, "date": 16, "utc": true}, {"year": 2021, "month": 9, "date": 16, "utc": true}], "orient": "bottom", "grid": true, "gridWidth": 0.5, "labels": false, "ticks": false, "domain": false, "title": null}},
        "y": {"field": "y", "type": "quantitative", "scale": {"domain": [-5, 105]}, "axis": {"values": [12.5, 37.5, 62.5, 87.5], "orient": "left", "grid": true, "gridWidth": 0.5, "labels": false, "ticks": false, "domain": false, "title": null}}}},
      {"data": {"name": "fit"}, "transform": [{"filter": "datum.v === 'i'"}], "mark": {"type": "line", "strokeWidth": 2.6},
       "encoding": {
        "x": {"field": "t", "type": "temporal", "scale": {"type": "utc", "domain": [{"year": 2020, "month": 8, "date": 8, "utc": true}, {"year": 2022, "month": 1, "date": 20, "utc": true}]}, "axis": null},
        "y": {"field": "y", "type": "quantitative", "scale": {"domain": [-5, 105]}, "axis": null}, "color": {"datum": "WW"}}}
     ]}
  ],
  "config": {
    "font": "Liberation Sans",
    "view": {"fill": "#ebebeb", "stroke": null},
    "title": {"font": "Liberation Sans", "fontSize": 13, "fontWeight": "normal", "color": "#000000", "anchor": "middle", "frame": "group", "offset": 2},
    "style": {"group-title": {"fontWeight": "normal", "fontSize": 13}},
    "axis": {"domain": false, "grid": true, "gridColor": "#ffffff", "gridWidth": 1.1, "tickColor": "#333333", "tickSize": 2.5, "labelColor": "#4d4d4d", "labelFont": "Liberation Sans", "labelFontSize": 9, "labelPadding": 1, "titleFont": "Liberation Sans", "titleFontSize": 11.5, "titleFontWeight": "normal", "titleColor": "#000000", "titlePadding": 3},
    "axisX": {"labelFlush": false, "labelOverlap": false},
    "legend": {"layout": {"bottom": {"anchor": "middle"}}}
  }
}
